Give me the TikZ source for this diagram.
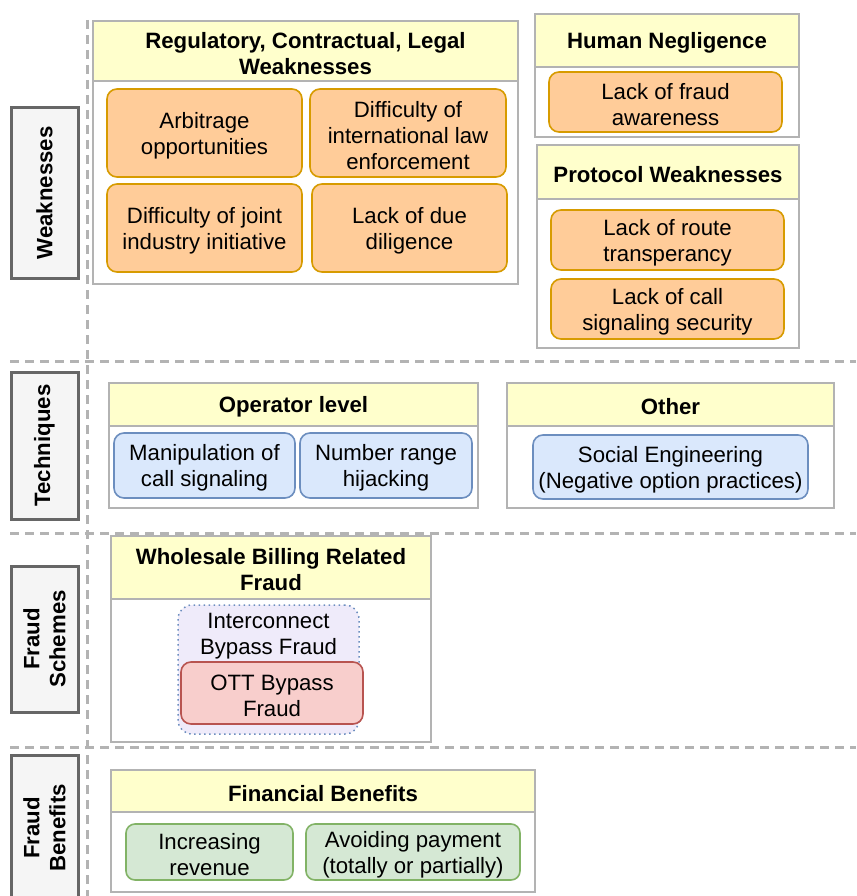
\documentclass[tikz,border=0pt]{standalone}
\usepackage{fontspec}
\setmainfont{Liberation Sans}
\definecolor{laneGray}{HTML}{B3B3B3}
\definecolor{hdrY}{HTML}{FFFFCC}
\definecolor{lblFill}{HTML}{F5F5F5}
\definecolor{lblDraw}{HTML}{666666}
\definecolor{orFill}{HTML}{FFCC99}
\definecolor{orDraw}{HTML}{D79B00}
\definecolor{blFill}{HTML}{DAE8FC}
\definecolor{blDraw}{HTML}{6C8EBF}
\definecolor{grFill}{HTML}{D5E8D4}
\definecolor{grDraw}{HTML}{82B366}
\definecolor{rdFill}{HTML}{F8CECC}
\definecolor{rdDraw}{HTML}{B85450}
\definecolor{lvFill}{HTML}{EFEBFA}
\newcommand{\nbox}[7]{%
  \node[#1, minimum width={#5-#3}, minimum height={#6-#4}] (#2) at ({(#3+#5)/2},{(#4+#6)/2}) {};
  \node[#1, draw=none, fill=none] (#2-t) at ([yshift=-2.5pt]#2.center) {#7};}
\begin{document}
\begin{tikzpicture}[x=1pt,y=-1pt,
  every node/.style={inner sep=0pt, outer sep=0pt, align=center, font=\fontsize{22.2}{26}\selectfont},
  lane/.style={draw=laneGray, line width=1.8pt, fill=white},
  hdr/.style={draw=laneGray, line width=1.8pt, fill=hdrY, font=\fontsize{22.2}{26}\selectfont\bfseries},
  lbl/.style={draw=lblDraw, line width=3pt, fill=lblFill},
  lbltext/.style={rotate=90, font=\fontsize{22.2}{26}\selectfont\bfseries},
  orbox/.style={draw=orDraw, line width=1.6pt, fill=orFill, rounded corners=10pt},
  blbox/.style={draw=blDraw, line width=1.6pt, fill=blFill, rounded corners=10pt},
  grbox/.style={draw=grDraw, line width=1.6pt, fill=grFill, rounded corners=9pt},
  rdbox/.style={draw=rdDraw, line width=1.6pt, fill=rdFill, rounded corners=10pt},
  lvbox/.style={draw=blDraw, line width=1.5pt, dash pattern=on 1.5pt off 3.5pt, fill=lvFill, rounded corners=14pt},
  sep/.style={draw=laneGray, line width=3pt, dash pattern=on 9pt off 6pt}
]
\useasboundingbox (0,0) rectangle (856,896);
\clip (0,0) rectangle (856,896);

% separators
\draw[sep] (87,20) -- (87,896);
\draw[sep] (10,361) -- (856,361);
\draw[sep] (10,533) -- (856,533);
\draw[sep] (10,747) -- (856,747);

% row labels
\nbox{lbl}{lw}{11}{108}{78}{278}{}
\node[lbltext] (lwt) at (lw.center) {Weaknesses};
\nbox{lbl}{lt}{11}{372}{78}{519}{}
\node[lbltext] (ltt) at (lt.center) {Techniques};
\nbox{lbl}{ls}{11}{566}{78}{712}{}
\node[lbltext] (lst) at (ls.center) {Fraud\\Schemes};
\nbox{lbl}{lb}{11}{755}{78}{901}{}
\node[lbltext] (lbt) at (lb.center) {Fraud\\Benefits};

% Regulatory
\nbox{lane}{reg}{93}{21}{518}{284}{}
\nbox{hdr}{regh}{93}{21}{518}{81}{Regulatory, Contractual, Legal\\Weaknesses}
\nbox{orbox}{arb}{107}{89}{302}{177}{Arbitrage\\opportunities}
\nbox{orbox}{intl}{310}{89}{506}{177}{Difficulty of\\international law\\enforcement}
\nbox{orbox}{joint}{107}{184}{302}{272}{Difficulty of joint\\industry initiative}
\nbox{orbox}{due}{312}{184}{507}{272}{Lack of due\\diligence}

% Human negligence
\nbox{lane}{hum}{535}{14}{799}{137}{}
\nbox{hdr}{humh}{535}{14}{799}{67}{Human Negligence}
\nbox{orbox}{aware}{549}{72}{782}{132}{Lack of fraud\\awareness}

% Protocol
\nbox{lane}{prot}{537}{145}{799}{348}{}
\nbox{hdr}{proth}{537}{145}{799}{199}{Protocol Weaknesses}
\nbox{orbox}{route}{551}{210}{784}{270}{Lack of route\\transperancy}
\nbox{orbox}{sigsec}{551}{279}{784}{339}{Lack of call\\signaling security}

% Operator level
\nbox{lane}{op}{109}{383}{478}{508}{}
\nbox{hdr}{oph}{109}{383}{478}{426}{Operator level}
\nbox{blbox}{manip}{114}{433}{295}{498}{Manipulation of\\call signaling}
\nbox{blbox}{hijack}{300}{433}{472}{498}{Number range\\hijacking}

% Other
\nbox{lane}{oth}{507}{383}{834}{508}{}
\nbox{hdr}{othh}{507}{383}{834}{426}{Other}
\nbox{blbox}{social}{533}{435}{808}{499}{Social Engineering\\(Negative option practices)}

% Wholesale
\nbox{lane}{whs}{111}{536}{431}{742}{}
\nbox{hdr}{whsh}{111}{536}{431}{599}{Wholesale Billing Related\\Fraud}
\nbox{lvbox}{icbf}{178}{605}{359}{734}{}
\node[anchor=north] (icbft) at ([yshift=-8pt]icbf.north) {Interconnect\\Bypass Fraud};
\nbox{rdbox}{ott}{181}{662}{363}{724}{OTT Bypass\\Fraud}

% Financial
\nbox{lane}{fin}{111}{770}{535}{892}{}
\nbox{hdr}{finh}{111}{770}{535}{812}{Financial Benefits}
\nbox{grbox}{incr}{126}{824}{293}{880}{Increasing\\revenue}
\nbox{grbox}{avoid}{306}{824}{520}{880}{Avoiding payment\\(totally or partially)}
\end{tikzpicture}
\end{document}
